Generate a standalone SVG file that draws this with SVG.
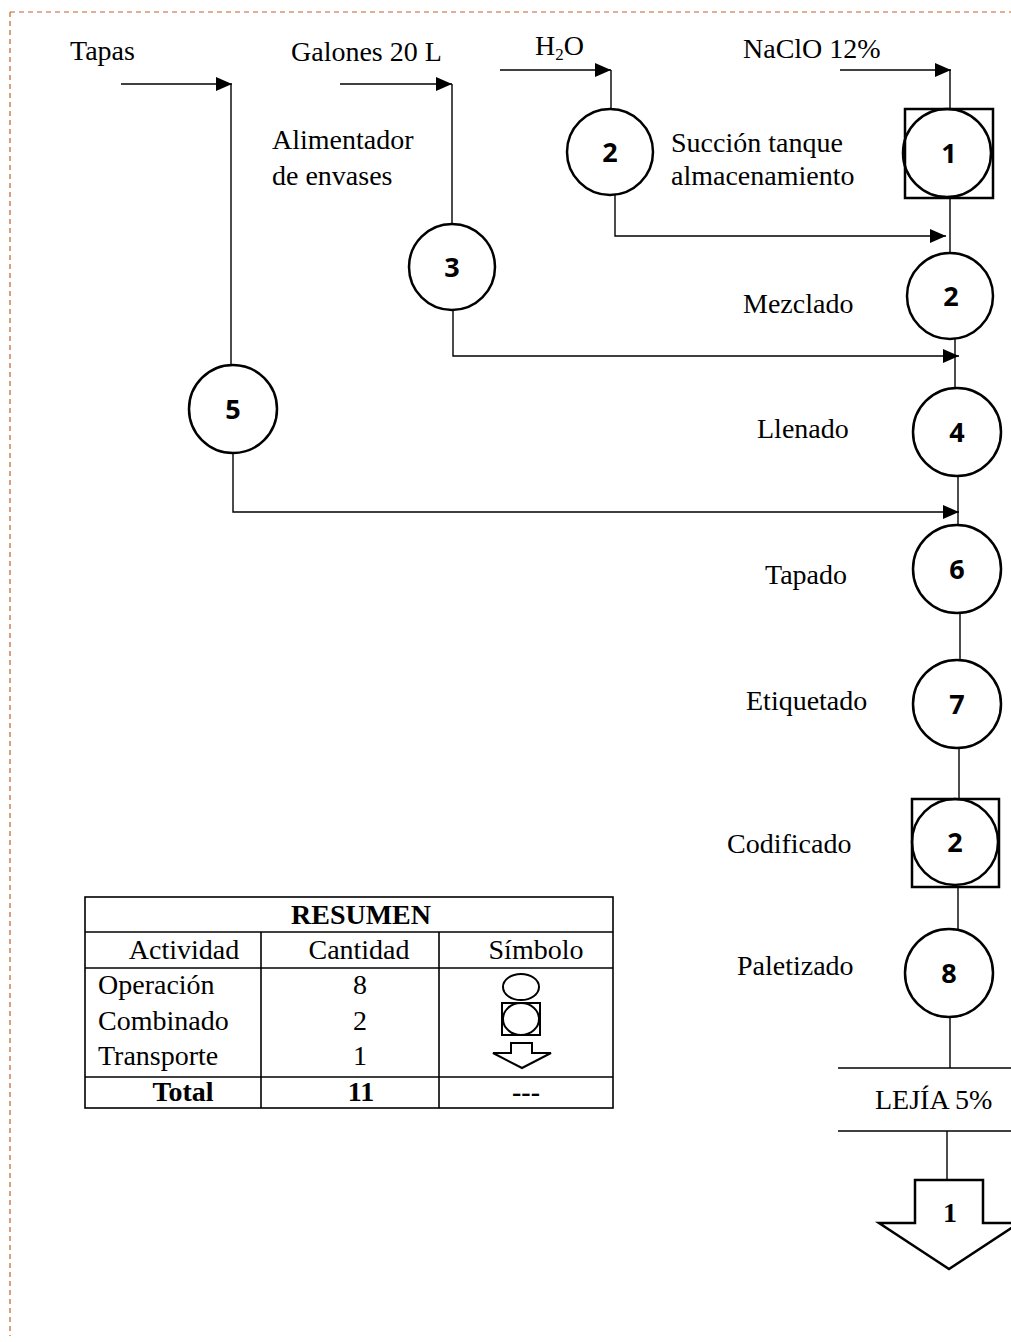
<svg xmlns="http://www.w3.org/2000/svg" width="1011" height="1342" viewBox="0 0 1011 1342">
  <defs>
    <marker id="arrow" viewBox="0 0 16 14" refX="16" refY="7" markerWidth="16" markerHeight="14" markerUnits="userSpaceOnUse" orient="auto">
      <path d="M0,0 L16,7 L0,14 Z" fill="#000"/>
    </marker>
  </defs>
  <style>
    .lbl { font-family: "Liberation Serif", "Times New Roman", serif; font-size: 28px; fill: #000; }
    .num { font-family: "Open Sans", "Liberation Sans", sans-serif; font-weight: 700; font-size: 27px; fill: #000; text-anchor: middle; }
    .op { fill: #fff; stroke: #000; stroke-width: 2.5; }
    .box { fill: none; stroke: #000; stroke-width: 2.5; }
    .ln { fill: none; stroke: #000; stroke-width: 1.4; }
    .flow { fill: none; stroke: #000; stroke-width: 1.4; marker-end: url(#arrow); }
    .tbl { fill: none; stroke: #000; stroke-width: 1.6; }
    .tt { font-family: "Liberation Serif", "Times New Roman", serif; font-size: 28px; fill: #000; }
    .tc { text-anchor: middle; }
    .b { font-weight: 700; }
  </style>

  <rect width="1011" height="1342" fill="#fff"/>

  <!-- page frame (dashed) -->
  <g id="frame" fill="none" stroke="#c0622a" stroke-width="1.2" stroke-dasharray="5 4">
    <line x1="10" y1="12" x2="1011" y2="12"/>
    <line x1="10" y1="12" x2="10" y2="1336"/>
  </g>

  <!-- connectors -->
  <g id="connectors">
    <!-- inputs -->
    <line class="flow" x1="121" y1="84" x2="232" y2="84"/>
    <line class="ln" x1="231" y1="84" x2="231" y2="365"/>
    <line class="flow" x1="340" y1="84" x2="452" y2="84"/>
    <line class="ln" x1="452" y1="84" x2="452" y2="224"/>
    <line class="flow" x1="500" y1="70" x2="611" y2="70"/>
    <line class="ln" x1="611" y1="70" x2="611" y2="108"/>
    <line class="flow" x1="840" y1="70" x2="951" y2="70"/>
    <line class="ln" x1="950" y1="70" x2="950" y2="109"/>
    <!-- side feeds into main line -->
    <polyline class="flow" points="615,195 615,236 946,236"/>
    <polyline class="flow" points="453,310 453,356 959,356"/>
    <polyline class="flow" points="233,453 233,512 959,512"/>
    <!-- main line -->
    <line class="ln" x1="950" y1="198" x2="950" y2="253"/>
    <line class="ln" x1="955" y1="339" x2="955" y2="389"/>
    <line class="ln" x1="958" y1="476" x2="958" y2="525"/>
    <line class="ln" x1="960" y1="613" x2="960" y2="660"/>
    <line class="ln" x1="959" y1="748" x2="959" y2="799"/>
    <line class="ln" x1="958" y1="887" x2="958" y2="930"/>
    <line class="ln" x1="950" y1="1017" x2="950" y2="1068"/>
    <line class="ln" x1="947" y1="1131" x2="947" y2="1180"/>
  </g>

  <!-- input labels -->
  <g id="inputs">
    <text class="lbl" x="70" y="60">Tapas</text>
    <text class="lbl" x="291" y="61" font-size="26">Galones 20 L</text>
    <text class="lbl" x="535" y="55">H<tspan font-size="17" dy="5">2</tspan><tspan dy="-5">O</tspan></text>
    <text class="lbl" x="743" y="58">NaClO 12%</text>
  </g>

  <!-- combined 1 -->
  <g id="node-c1">
    <rect class="box" x="905" y="109" width="88" height="89"/>
    <circle class="op" cx="947" cy="153" r="44" style="fill:none"/>
    <text class="num" x="949" y="163">1</text>
  </g>

  <g id="node-o2-succion">
    <circle class="op" cx="610" cy="152" r="43"/>
    <text class="num" x="610" y="162">2</text>
    <text class="lbl" x="671" y="152">Succión tanque</text>
    <text class="lbl" x="671" y="185">almacenamiento</text>
  </g>

  <g id="node-o3">
    <circle class="op" cx="452" cy="267" r="43"/>
    <text class="num" x="452" y="277">3</text>
    <text class="lbl" x="272" y="149">Alimentador</text>
    <text class="lbl" x="272" y="185">de envases</text>
  </g>

  <g id="node-o5">
    <circle class="op" cx="233" cy="409" r="44"/>
    <text class="num" x="233" y="419">5</text>
  </g>

  <g id="node-o2-mezclado">
    <circle class="op" cx="950" cy="296" r="43"/>
    <text class="num" x="951" y="306">2</text>
    <text class="lbl" x="743" y="313">Mezclado</text>
  </g>

  <g id="node-o4">
    <circle class="op" cx="957" cy="432" r="44"/>
    <text class="num" x="957" y="442">4</text>
    <text class="lbl" x="757" y="438">Llenado</text>
  </g>

  <g id="node-o6">
    <circle class="op" cx="957" cy="569" r="44"/>
    <text class="num" x="957" y="579">6</text>
    <text class="lbl" x="765" y="584">Tapado</text>
  </g>

  <g id="node-o7">
    <circle class="op" cx="957" cy="704" r="44"/>
    <text class="num" x="957" y="714">7</text>
    <text class="lbl" x="746" y="710">Etiquetado</text>
  </g>

  <g id="node-c2">
    <rect class="box" x="912" y="799" width="87" height="88"/>
    <circle class="op" cx="955" cy="842" r="43" style="fill:none"/>
    <text class="num" x="955" y="852">2</text>
    <text class="lbl" x="727" y="853">Codificado</text>
  </g>

  <g id="node-o8">
    <circle class="op" cx="949" cy="973" r="44"/>
    <text class="num" x="949" y="983">8</text>
    <text class="lbl" x="737" y="975">Paletizado</text>
  </g>

  <g id="node-product">
    <line class="ln" x1="838" y1="1068" x2="1011" y2="1068"/>
    <line class="ln" x1="838" y1="1131" x2="1011" y2="1131"/>
    <text class="lbl" x="875" y="1109" font-size="26">LEJÍA 5%</text>
  </g>

  <g id="node-t1">
    <polygon class="box" points="915,1180 983,1180 983,1223 1019,1223 949,1269 879,1223 915,1223"/>
    <text class="tt b tc" x="950" y="1222" font-size="30">1</text>
  </g>

  <!-- summary table -->
  <g id="summary">
    <rect class="tbl" x="85" y="897" width="528" height="211"/>
    <line class="tbl" x1="85" y1="932" x2="613" y2="932"/>
    <line class="tbl" x1="85" y1="968" x2="613" y2="968"/>
    <line class="tbl" x1="85" y1="1077" x2="613" y2="1077"/>
    <line class="tbl" x1="261" y1="932" x2="261" y2="1108"/>
    <line class="tbl" x1="439" y1="932" x2="439" y2="1108"/>

    <text class="tt b tc" x="361" y="924" font-size="25">RESUMEN</text>
    <text class="tt tc" x="184" y="959">Actividad</text>
    <text class="tt tc" x="359" y="959">Cantidad</text>
    <text class="tt tc" x="536" y="959">Símbolo</text>

    <text class="tt" x="98" y="994">Operación</text>
    <text class="tt tc" x="360" y="994">8</text>
    <ellipse cx="521" cy="987" rx="18" ry="13" fill="none" stroke="#000" stroke-width="2"/>

    <text class="tt" x="98" y="1030">Combinado</text>
    <text class="tt tc" x="360" y="1030">2</text>
    <rect x="502" y="1003" width="38" height="32" fill="none" stroke="#000" stroke-width="2"/>
    <ellipse cx="521" cy="1019" rx="18" ry="16" fill="none" stroke="#000" stroke-width="2"/>

    <text class="tt" x="98" y="1065">Transporte</text>
    <text class="tt tc" x="360" y="1065">1</text>
    <polygon points="511,1043 532,1043 532,1053 551,1053 522,1068 493,1053 511,1053" fill="none" stroke="#000" stroke-width="2"/>

    <text class="tt b tc" x="183" y="1101">Total</text>
    <text class="tt b tc" x="361" y="1101">11</text>
    <text class="tt b tc" x="526" y="1101">---</text>
  </g>
</svg>
